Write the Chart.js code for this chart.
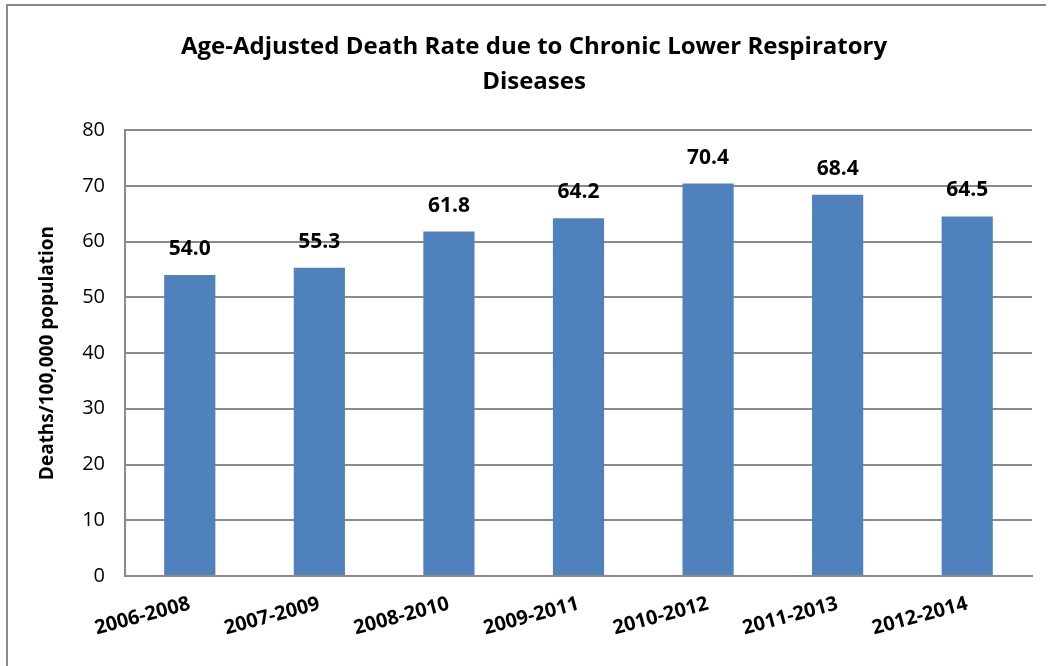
<!DOCTYPE html>
<html>
<head>
<meta charset="utf-8">
<script src="https://cdn.jsdelivr.net/npm/chart.js@4"></script>
<style>
  html, body { margin: 0; padding: 0; background: #fff; }
  #wrap { position: relative; width: 1053px; height: 666px; overflow: hidden; }
  #frame { position: absolute; left: 6px; top: 4px; width: 1038px; height: 700px;
           border-top: 2px solid #8a8a8a; border-left: 2px solid #8a8a8a; }
  canvas { position: absolute; left: 0; top: 0; }
</style>
</head>
<body>
<div id="wrap">
  <div id="frame"></div>
  <canvas id="c" width="1053" height="666"></canvas>
</div>
<script>
const categories = ["2006-2008", "2007-2009", "2008-2010", "2009-2011", "2010-2012", "2011-2013", "2012-2014"];
const rates = [54.0, 55.3, 61.8, 64.2, 70.4, 68.4, 64.5];
const titleLines = ["Age-Adjusted Death Rate due to Chronic Lower Respiratory", "Diseases"];
const yAxisTitle = "Deaths/100,000 population";

const FONT = "'Open Sans', 'Liberation Sans', sans-serif";

const valueLabels = {
  id: 'valueLabels',
  afterDatasetsDraw(chart) {
    const ctx = chart.ctx;
    const meta = chart.getDatasetMeta(0);
    ctx.save();
    ctx.font = "bold 21px " + FONT;
    ctx.fillStyle = "#000";
    ctx.textAlign = "center";
    ctx.textBaseline = "middle";
    meta.data.forEach((bar, i) => {
      ctx.fillText(rates[i].toFixed(1), bar.x, bar.y - 26);
    });
    ctx.restore();
  }
};

new Chart(document.getElementById('c'), {
  type: 'bar',
  data: {
    labels: categories,
    datasets: [{
      data: rates,
      backgroundColor: '#4F81BD',
      borderWidth: 0,
      categoryPercentage: 1.0,
      barPercentage: 0.395
    }]
  },
  options: {
    responsive: false,
    animation: false,
    devicePixelRatio: 1,
    layout: { padding: { left: 36, right: 21, top: 0, bottom: 0 } },
    plugins: {
      legend: { display: false },
      tooltip: { enabled: false },
      title: {
        display: true,
        text: titleLines,
        color: '#000',
        font: { family: FONT, size: 24, weight: 'bold', lineHeight: 1.46 },
        padding: { top: 30, bottom: 30 }
      }
    },
    scales: {
      x: {
        grid: { display: false, drawTicks: false },
        border: { display: true, color: '#8a8a8a', width: 2 },
        ticks: {
          color: '#000',
          font: { family: FONT, size: 20, weight: 'bold' },
          minRotation: 15, maxRotation: 15,
          padding: 16
        },
        afterFit(scale) { scale.height = 90; }
      },
      y: {
        min: 0, max: 80,
        ticks: {
          stepSize: 10,
          color: '#000',
          font: { family: FONT, size: 20 },
          padding: 20
        },
        grid: { color: '#8a8a8a', lineWidth: 2, drawTicks: false },
        border: { display: true, color: '#8a8a8a', width: 2 },
        title: {
          display: true,
          text: yAxisTitle,
          color: '#000',
          font: { family: FONT, size: 19, weight: 'bold' },
          padding: { top: 0, bottom: 10 }
        },
        afterFit(scale) { scale.width = 89; }
      }
    }
  },
  plugins: [valueLabels]
});
</script>
</body>
</html>
